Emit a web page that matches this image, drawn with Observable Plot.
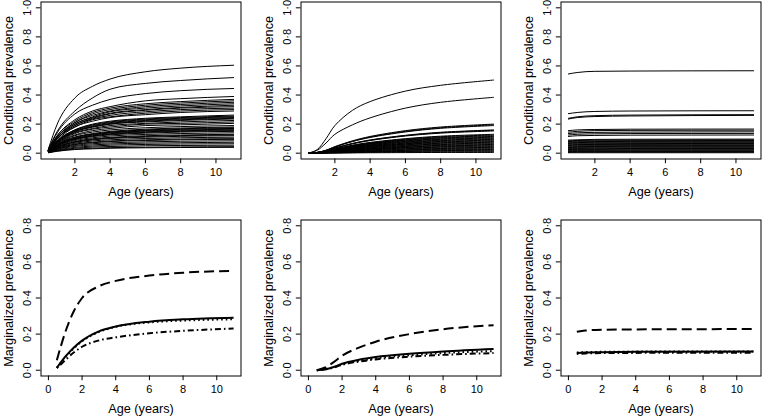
<!DOCTYPE html>
<html><head><meta charset="utf-8">
<script src="https://cdn.jsdelivr.net/npm/d3@7"></script>
<script src="https://cdn.jsdelivr.net/npm/@observablehq/plot@0.6"></script>
<style>
html,body{margin:0;padding:0;background:#fff;overflow:hidden}
#root{position:relative;width:762px;height:416px;overflow:hidden;background:#fff}
.panel{position:absolute;width:260px;height:208px;overflow:visible}
.panel svg{max-width:none !important;width:260px;height:208px;display:block}
</style></head><body><div id="root"></div>
<script>
// ---------- axis text ----------
const xLabel = "Age (years)";
const yLabelTop = "Conditional prevalence";
const yLabelBottom = "Marginalized prevalence";
const xTicksTop = [2, 4, 6, 8, 10];
const xTicksBottom = [0, 2, 4, 6, 8, 10];
const yTicksTop = [0, 0.2, 0.4, 0.6, 0.8, 1.0];
const yTicksBottom = [0, 0.2, 0.4, 0.6, 0.8];

// ---------- top-left: conditional prevalence curves ----------
const agesTopLeft = [0.5, 1, 2, 3, 4, 6, 8, 11];
const conditionalLeft = [
  [0.03, 0.20, 0.38, 0.46, 0.51, 0.56, 0.585, 0.605],
  [0.03, 0.15, 0.29, 0.38, 0.44, 0.48, 0.50, 0.52],
  [0.025, 0.14, 0.27, 0.33, 0.37, 0.41, 0.43, 0.445],
  [0.02, 0.12, 0.23, 0.29, 0.32, 0.36, 0.375, 0.39],
  [0.02, 0.12, 0.22, 0.28, 0.31, 0.34, 0.355, 0.37],
  [0.02, 0.11, 0.21, 0.27, 0.30, 0.33, 0.345, 0.36],
  [0.02, 0.11, 0.21, 0.26, 0.29, 0.32, 0.335, 0.35],
  [0.02, 0.11, 0.20, 0.25, 0.285, 0.31, 0.325, 0.34],
  [0.02, 0.10, 0.20, 0.245, 0.275, 0.30, 0.315, 0.33],
  [0.02, 0.10, 0.19, 0.24, 0.27, 0.295, 0.31, 0.32],
  [0.02, 0.10, 0.19, 0.235, 0.26, 0.285, 0.30, 0.31],
  [0.02, 0.10, 0.18, 0.23, 0.25, 0.275, 0.29, 0.30],
  [0.02, 0.09, 0.18, 0.22, 0.245, 0.265, 0.28, 0.29],
  [0.02, 0.085, 0.16, 0.20, 0.22, 0.24, 0.25, 0.262],
  [0.02, 0.085, 0.16, 0.195, 0.215, 0.235, 0.245, 0.255],
  [0.015, 0.08, 0.155, 0.19, 0.21, 0.23, 0.24, 0.25],
  [0.015, 0.08, 0.15, 0.185, 0.205, 0.225, 0.235, 0.245],
  [0.015, 0.08, 0.15, 0.18, 0.20, 0.22, 0.23, 0.24],
  [0.015, 0.075, 0.145, 0.18, 0.20, 0.215, 0.225, 0.235],
  [0.015, 0.075, 0.14, 0.17, 0.19, 0.205, 0.215, 0.225],
  [0.015, 0.07, 0.135, 0.165, 0.18, 0.20, 0.205, 0.215],
  [0.015, 0.07, 0.125, 0.155, 0.17, 0.19, 0.195, 0.205],
  [0.015, 0.065, 0.12, 0.145, 0.16, 0.175, 0.183, 0.19],
  [0.01, 0.06, 0.11, 0.135, 0.15, 0.165, 0.173, 0.18],
  [0.01, 0.06, 0.11, 0.13, 0.145, 0.16, 0.168, 0.175],
  [0.01, 0.055, 0.105, 0.13, 0.143, 0.156, 0.164, 0.17],
  [0.01, 0.055, 0.10, 0.125, 0.139, 0.152, 0.159, 0.165],
  [0.01, 0.055, 0.10, 0.12, 0.134, 0.147, 0.154, 0.16],
  [0.01, 0.05, 0.095, 0.118, 0.13, 0.143, 0.15, 0.155],
  [0.01, 0.05, 0.093, 0.114, 0.126, 0.138, 0.145, 0.15],
  [0.01, 0.047, 0.087, 0.106, 0.118, 0.129, 0.135, 0.14],
  [0.01, 0.043, 0.08, 0.099, 0.109, 0.12, 0.125, 0.13],
  [0.01, 0.041, 0.078, 0.095, 0.105, 0.115, 0.121, 0.125],
  [0.01, 0.04, 0.074, 0.091, 0.101, 0.11, 0.116, 0.12],
  [0.008, 0.036, 0.068, 0.084, 0.092, 0.101, 0.106, 0.11],
  [0.008, 0.033, 0.062, 0.076, 0.084, 0.092, 0.097, 0.10],
  [0.008, 0.031, 0.059, 0.072, 0.08, 0.087, 0.092, 0.095],
  [0.007, 0.028, 0.053, 0.065, 0.071, 0.078, 0.082, 0.085],
  [0.006, 0.025, 0.047, 0.057, 0.063, 0.069, 0.072, 0.075],
  [0.005, 0.021, 0.04, 0.049, 0.055, 0.06, 0.063, 0.065],
  [0.005, 0.018, 0.034, 0.042, 0.046, 0.051, 0.053, 0.055],
  [0.004, 0.015, 0.028, 0.034, 0.038, 0.041, 0.043, 0.045],
  [0.003, 0.013, 0.025, 0.03, 0.034, 0.037, 0.039, 0.04]
];

// ---------- top-middle: conditional prevalence curves ----------
const agesTopMiddle = [0.5, 1, 1.5, 2, 3, 4, 6, 8, 11];
const conditionalMiddle = [
  [0, 0.025, 0.10, 0.19, 0.295, 0.355, 0.427, 0.467, 0.503],
  [0, 0.02, 0.07, 0.13, 0.195, 0.243, 0.31, 0.35, 0.384],
  [0, 0.005, 0.02, 0.045, 0.085, 0.115, 0.155, 0.18, 0.20],
  [0, 0.005, 0.02, 0.043, 0.082, 0.111, 0.15, 0.175, 0.195],
  [0, 0.005, 0.019, 0.042, 0.08, 0.108, 0.146, 0.171, 0.19],
  [0, 0.005, 0.016, 0.035, 0.067, 0.091, 0.123, 0.144, 0.16],
  [0, 0.005, 0.016, 0.035, 0.066, 0.089, 0.121, 0.141, 0.157],
  [0, 0.005, 0.015, 0.034, 0.064, 0.087, 0.118, 0.138, 0.153],
  [0, 0.004, 0.013, 0.029, 0.055, 0.074, 0.1, 0.117, 0.13],
  [0, 0.004, 0.013, 0.028, 0.053, 0.071, 0.096, 0.113, 0.125],
  [0, 0.004, 0.012, 0.026, 0.05, 0.068, 0.092, 0.108, 0.12],
  [0, 0.003, 0.012, 0.025, 0.048, 0.066, 0.089, 0.104, 0.115],
  [0, 0.003, 0.011, 0.024, 0.046, 0.063, 0.085, 0.099, 0.11],
  [0, 0.003, 0.011, 0.023, 0.044, 0.06, 0.081, 0.095, 0.105],
  [0, 0.003, 0.01, 0.022, 0.042, 0.057, 0.077, 0.09, 0.1],
  [0, 0.003, 0.01, 0.021, 0.04, 0.054, 0.073, 0.086, 0.095],
  [0, 0.003, 0.009, 0.02, 0.038, 0.051, 0.069, 0.081, 0.09],
  [0, 0.003, 0.009, 0.019, 0.036, 0.048, 0.065, 0.077, 0.085],
  [0, 0.002, 0.008, 0.018, 0.034, 0.046, 0.062, 0.072, 0.08],
  [0, 0.002, 0.008, 0.017, 0.032, 0.043, 0.058, 0.068, 0.075],
  [0, 0.002, 0.007, 0.015, 0.029, 0.04, 0.054, 0.063, 0.07],
  [0, 0.002, 0.007, 0.014, 0.027, 0.037, 0.05, 0.059, 0.065],
  [0, 0.002, 0.006, 0.013, 0.025, 0.034, 0.046, 0.054, 0.06],
  [0, 0.002, 0.006, 0.012, 0.023, 0.031, 0.042, 0.05, 0.055],
  [0, 0.002, 0.005, 0.011, 0.021, 0.029, 0.039, 0.045, 0.05],
  [0, 0.001, 0.005, 0.01, 0.019, 0.026, 0.035, 0.041, 0.045],
  [0, 0.001, 0.004, 0.009, 0.017, 0.023, 0.031, 0.036, 0.04],
  [0, 0.001, 0.004, 0.008, 0.015, 0.02, 0.027, 0.032, 0.035],
  [0, 0.001, 0.003, 0.007, 0.013, 0.017, 0.023, 0.027, 0.03],
  [0, 0.001, 0.003, 0.006, 0.011, 0.014, 0.019, 0.023, 0.025],
  [0, 0.001, 0.002, 0.004, 0.008, 0.011, 0.015, 0.018, 0.02],
  [0, 0, 0.002, 0.003, 0.006, 0.009, 0.012, 0.014, 0.015],
  [0, 0, 0.001, 0.002, 0.004, 0.006, 0.008, 0.009, 0.01],
  [0, 0, 0.001, 0.001, 0.002, 0.003, 0.004, 0.005, 0.005]
];

// ---------- top-right: conditional prevalence curves ----------
const agesTopRight = [0.5, 1, 2, 4, 11];
const conditionalRight = [
  [0.545, 0.555, 0.563, 0.565, 0.567],
  [0.272, 0.28, 0.287, 0.29, 0.292],
  [0.24, 0.25, 0.258, 0.262, 0.265],
  [0.235, 0.245, 0.252, 0.256, 0.26],
  [0.155, 0.16, 0.163, 0.165, 0.166],
  [0.145, 0.15, 0.155, 0.157, 0.158],
  [0.135, 0.14, 0.143, 0.145, 0.147],
  [0.125, 0.13, 0.133, 0.135, 0.136],
  [0.115, 0.12, 0.122, 0.124, 0.125],
  [0.09, 0.092, 0.095, 0.096, 0.097],
  [0.085, 0.087, 0.09, 0.091, 0.092],
  [0.08, 0.083, 0.085, 0.086, 0.087],
  [0.076, 0.078, 0.08, 0.081, 0.082],
  [0.071, 0.073, 0.075, 0.076, 0.077],
  [0.067, 0.069, 0.07, 0.071, 0.072],
  [0.062, 0.064, 0.065, 0.066, 0.067],
  [0.057, 0.059, 0.06, 0.061, 0.062],
  [0.053, 0.055, 0.056, 0.057, 0.057],
  [0.048, 0.05, 0.051, 0.052, 0.052],
  [0.043, 0.045, 0.046, 0.047, 0.047],
  [0.039, 0.04, 0.041, 0.042, 0.042],
  [0.034, 0.035, 0.036, 0.037, 0.037],
  [0.03, 0.031, 0.031, 0.032, 0.032],
  [0.025, 0.026, 0.026, 0.027, 0.027],
  [0.02, 0.021, 0.021, 0.022, 0.022],
  [0.016, 0.017, 0.017, 0.017, 0.017],
  [0.011, 0.012, 0.012, 0.012, 0.012],
  [0.006, 0.007, 0.007, 0.007, 0.007],
  [0.003, 0.003, 0.003, 0.003, 0.003]
];

// ---------- bottom row: marginalized prevalence ----------
const seriesNames = ["solid", "dashed", "dotted", "dotdash"];
const agesBottomLeft = [0.5, 1, 1.5, 2, 3, 4, 6, 8, 11];
const marginalLeftSolid   = [0.013, 0.075, 0.125, 0.164, 0.215, 0.242, 0.269, 0.282, 0.291];
const marginalLeftDashed  = [0.055, 0.21, 0.325, 0.4, 0.465, 0.495, 0.524, 0.54, 0.55];
const marginalLeftDotted  = [0.013, 0.07, 0.12, 0.16, 0.212, 0.24, 0.265, 0.275, 0.282];
const marginalLeftDotdash = [0.012, 0.055, 0.098, 0.13, 0.165, 0.182, 0.205, 0.218, 0.231];

const agesBottomMiddle = [0.5, 1, 1.5, 2, 3, 4, 6, 8, 11];
const marginalMiddleSolid   = [0, 0.005, 0.018, 0.036, 0.058, 0.073, 0.091, 0.104, 0.118];
const marginalMiddleDashed  = [0, 0.015, 0.045, 0.08, 0.125, 0.158, 0.2, 0.227, 0.249];
const marginalMiddleDotted  = [0, 0.005, 0.016, 0.032, 0.052, 0.066, 0.083, 0.095, 0.106];
const marginalMiddleDotdash = [0, 0.005, 0.015, 0.03, 0.048, 0.06, 0.075, 0.085, 0.095];

const agesBottomRight = [0.5, 1, 2, 4, 11];
const marginalRightSolid   = [0.095, 0.098, 0.1, 0.102, 0.104];
const marginalRightDashed  = [0.213, 0.22, 0.224, 0.226, 0.228];
const marginalRightDotted  = [0.098, 0.1, 0.102, 0.103, 0.104];
const marginalRightDotdash = [0.09, 0.093, 0.095, 0.096, 0.097];

// ---------- rendering ----------
const FONT = '"Liberation Sans", Arial, Helvetica, sans-serif';
const dashes = {solid: null, dashed: "10,5", dotted: "1.6,3", dotdash: "1.6,3,6,3"};

function curveRows(ages, curves) {
  return curves.flatMap((vals, id) => vals.map((v, i) => ({id, age: ages[i], value: v})));
}
function seriesRows(ages, vals) {
  return vals.map((v, i) => ({age: ages[i], value: v}));
}

function makePanel({row, col, xDomain, yDomain, xTicks, yTicks, yLabel, marks}) {
  const top = row === 0;
  const svg = Plot.plot({
    width: 260, height: 208,
    marginLeft: 40.5, marginRight: 19.5,
    marginTop: top ? 1.5 : 11.5,
    marginBottom: top ? 49.5 : 40.5,
    style: {fontFamily: FONT, fontSize: "11px", color: "#000", background: "transparent", overflow: "visible"},
    x: {domain: xDomain},
    y: {domain: yDomain},
    marks: [
      ...marks,
      Plot.frame({stroke: "#000", strokeWidth: 1}),
      Plot.axisX(xTicks, {tickSize: 4.7, tickPadding: 4.5, fontSize: 11, label: null, tickFormat: d => String(d)}),
      Plot.axisY(yTicks, {tickSize: 4.7, tickPadding: 8.5, tickRotate: -90, textAnchor: "middle", lineAnchor: "middle",
        fontSize: 11, label: null, tickFormat: d => d.toFixed(1).replace(".", "\u00B7")}),
      Plot.text([xLabel], {frameAnchor: "bottom", dy: 33, text: d => d, fontSize: 12.7, textAnchor: "middle", lineAnchor: "middle", fill: "#000"}),
      Plot.text([yLabel], {frameAnchor: "left", dx: -32, rotate: -90, text: d => d, fontSize: 12.7, textAnchor: "middle", lineAnchor: "middle", fill: "#000"})
    ]
  });
  const div = document.createElement("div");
  div.className = "panel";
  div.style.left = (col * 260) + "px";
  div.style.top = (row * 208) + "px";
  div.appendChild(svg);
  document.getElementById("root").appendChild(div);
}

const topX = [0.08, 11.42], topY = [-0.04, 1.04];
const botX = [-0.44, 11.44], botY = [-0.032, 0.832];

function conditionalMarks(ages, curves, curve = "monotone-x") {
  return [Plot.line(curveRows(ages, curves), {x: "age", y: "value", z: "id", curve, stroke: "#000", strokeWidth: 1})];
}
function marginalMarks(ages, solid, dashed, dotted, dotdash) {
  const s = {solid, dashed, dotted, dotdash};
  return seriesNames.map(name => Plot.line(seriesRows(ages, s[name]), {
    x: "age", y: "value", curve: "monotone-x", stroke: "#000", strokeWidth: 2,
    strokeDasharray: dashes[name], strokeLinecap: "butt"
  }));
}

makePanel({row: 0, col: 0, xDomain: topX, yDomain: topY, xTicks: xTicksTop, yTicks: yTicksTop, yLabel: yLabelTop,
  marks: conditionalMarks(agesTopLeft, conditionalLeft)});
makePanel({row: 0, col: 1, xDomain: topX, yDomain: topY, xTicks: xTicksTop, yTicks: yTicksTop, yLabel: yLabelTop,
  marks: conditionalMarks(agesTopMiddle, conditionalMiddle, "catmull-rom")});
makePanel({row: 0, col: 2, xDomain: topX, yDomain: topY, xTicks: xTicksTop, yTicks: yTicksTop, yLabel: yLabelTop,
  marks: conditionalMarks(agesTopRight, conditionalRight)});
makePanel({row: 1, col: 0, xDomain: botX, yDomain: botY, xTicks: xTicksBottom, yTicks: yTicksBottom, yLabel: yLabelBottom,
  marks: marginalMarks(agesBottomLeft, marginalLeftSolid, marginalLeftDashed, marginalLeftDotted, marginalLeftDotdash)});
makePanel({row: 1, col: 1, xDomain: botX, yDomain: botY, xTicks: xTicksBottom, yTicks: yTicksBottom, yLabel: yLabelBottom,
  marks: marginalMarks(agesBottomMiddle, marginalMiddleSolid, marginalMiddleDashed, marginalMiddleDotted, marginalMiddleDotdash)});
makePanel({row: 1, col: 2, xDomain: botX, yDomain: botY, xTicks: xTicksBottom, yTicks: yTicksBottom, yLabel: yLabelBottom,
  marks: marginalMarks(agesBottomRight, marginalRightSolid, marginalRightDashed, marginalRightDotted, marginalRightDotdash)});
</script></body></html>
